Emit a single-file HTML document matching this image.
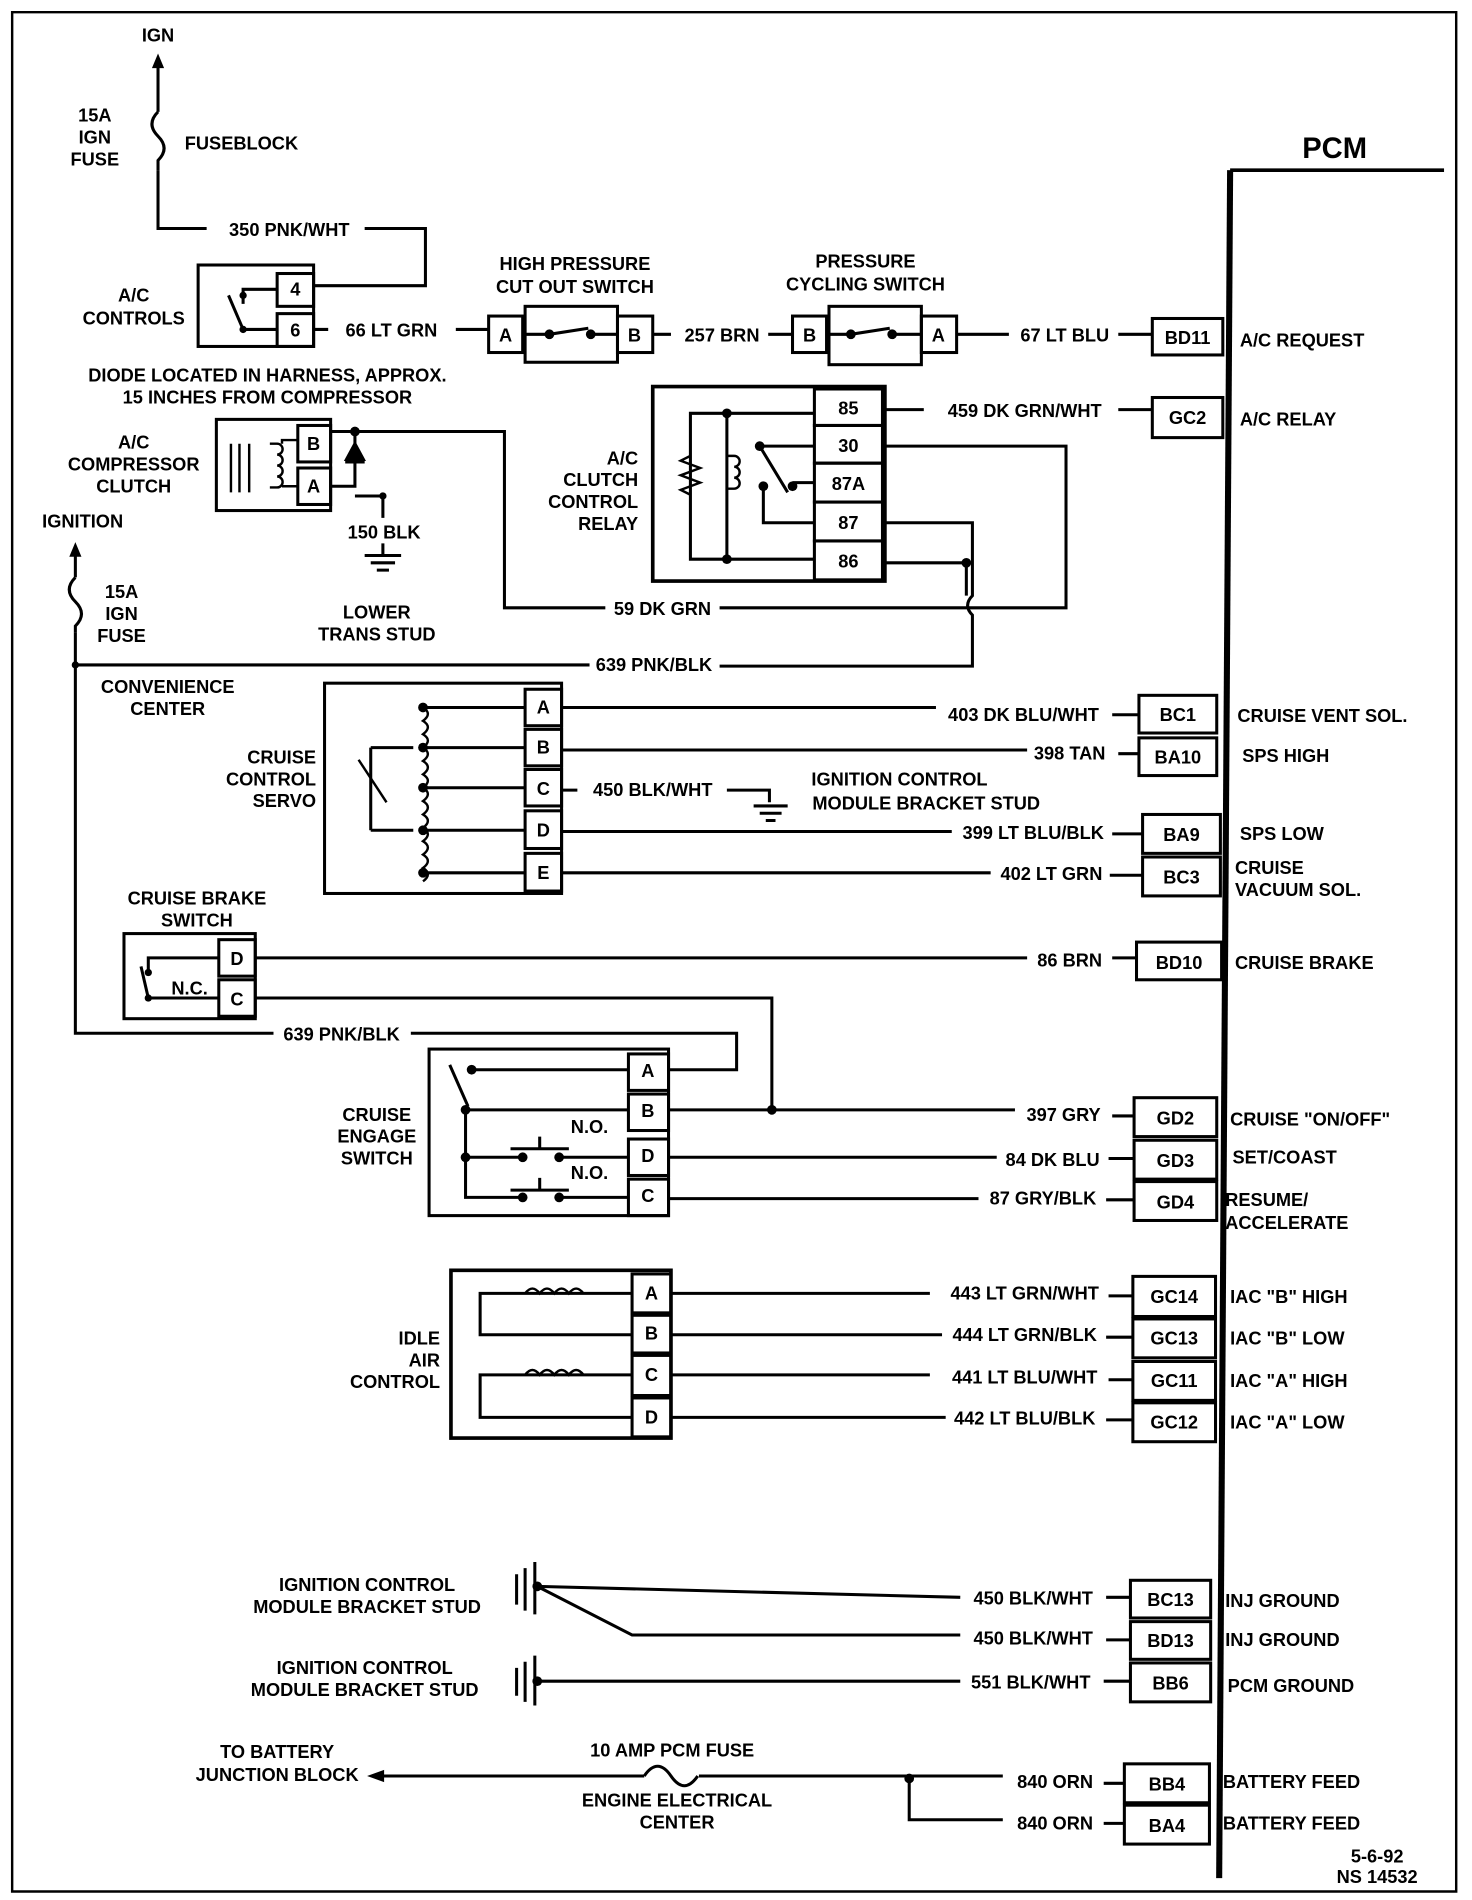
<!DOCTYPE html>
<html><head><meta charset="utf-8"><style>
html,body{margin:0;padding:0;background:#fff;}
svg{display:block;}
text{font-family:"Liberation Sans",sans-serif;font-weight:bold;font-size:15px;fill:#000;}
.r{text-anchor:end}.m{text-anchor:middle}
</style></head><body>
<svg width="1472" height="1900" viewBox="0 0 1211 1563" preserveAspectRatio="none" xmlns="http://www.w3.org/2000/svg">
<g fill="none" stroke="#000" stroke-width="2.5">
<path d="M10 10 H1198 V1556 H10 Z" stroke-width="2"/>
<path d="M1012 140 H1188" stroke-width="3"/>
<path d="M1012 140 L1003 1545" stroke-width="5"/>
<path d="M130 50 V92 M130 140 V188 H170 M300 188 H350 V235 H258"/>
<path d="M130 92 q-10 10 0 20 q10 10 0 20 v8"/>
<rect x="163" y="218" width="95" height="67"/>
<rect x="228" y="225" width="30" height="27"/><rect x="228" y="258" width="30" height="27"/>
<path d="M228 238 H200 V250 M228 271 H200 M200 271 L188 243"/>
<path d="M258 271 H270 M375 271 H402"/>
<rect x="402" y="260" width="28" height="30"/><rect x="432" y="252" width="76" height="46"/><rect x="508" y="260" width="29" height="30"/>
<path d="M430 275 H452 L484 270 M486 275 H508 M537 275 H552 M632 275 H652"/>
<rect x="652" y="260" width="28" height="30"/><rect x="682" y="252" width="76" height="48"/><rect x="758" y="260" width="29" height="30"/>
<path d="M680 275 H700 L732 270 M734 275 H758 M787 275 H830 M920 275 H948"/>
<rect x="948" y="262" width="58" height="30"/>
<rect x="537" y="318" width="191" height="160" stroke-width="3"/>
<rect x="670" y="320" width="56" height="30"/><rect x="670" y="350" width="56" height="31"/><rect x="670" y="381" width="56" height="32"/><rect x="670" y="413" width="56" height="32"/><rect x="670" y="445" width="56" height="32"/>
<path d="M568 404 V340 H670 M598 340 V460 M568 404 V460 H670"/>
<path d="M568 375 l-8 4 l16 6 l-16 6 l16 6 l-16 6 l8 4" stroke-width="2"/>
<path d="M598 375 h6 a4 4 0 0 1 0 9 a4 4 0 0 1 0 9 a4 4 0 0 1 0 9 h-6" stroke-width="2"/>
<path d="M625 367 H670 M625 367 L648 405 M652 397 H670 M628 400 V430 H670"/>
<path d="M728 337 H760 M920 337 H948"/>
<rect x="948" y="327" width="58" height="33"/>
<path d="M728 367 H877 V500 H592 M498 500 H415 V355 H272"/>
<path d="M728 430 H800 V490 q-8 8 0 16 V548 H592 M485 547 H62"/>
<path d="M728 463 H795 V490"/>
<rect x="178" y="345" width="94" height="75"/>
<rect x="245" y="350" width="27" height="30"/><rect x="245" y="385" width="27" height="30"/>
<path d="M190 365 V405 M197 365 V405 M205 365 V405 M245 362 H232 V365 M232 400 H245" stroke-width="2"/>
<path d="M222 365 h6 a4 4 0 0 1 0 9 a4 4 0 0 1 0 9 a4 4 0 0 1 0 9 a4 4 0 0 1 0 9 h-6" stroke-width="2"/>
<path d="M272 400 H292 V355 M292 408 H315 V426 M315 447 V457 M300 457 H330 M305 463 H325 M310 469 H320"/>
<path d="M284 380 H300" /><path d="M292 365 L285 378 H299 Z" fill="#000"/>
<path d="M62 455 V475 M62 520 V850 H225 M338 850 H606 V880 H550"/>
<path d="M62 475 q-10 10 0 20 q10 10 0 20 v5"/>
<rect x="267" y="562" width="195" height="173"/>
<rect x="432" y="567" width="30" height="30"/><rect x="432" y="600" width="30" height="30"/><rect x="432" y="633" width="30" height="30"/><rect x="432" y="667" width="30" height="31"/><rect x="432" y="702" width="30" height="31"/>
<path d="M432 582 H348 M432 615 H348 M432 648 H348 M432 683 H348 M432 718 H348 M305 615 V683 M305 615 H340 M305 683 H340"/>
<path d="M348 582 q8 5 0 11 q8 5 0 11 q8 5 0 11 q8 5 0 11 q8 5 0 11 q8 5 0 11 q8 5 0 11 q8 5 0 11 q8 5 0 11 q8 5 0 11 q8 5 0 11 q8 5 0 11 q8 5 0 11" stroke-width="2"/>
<path d="M295 625 L318 660" stroke-width="2"/>
<path d="M462 582 H770 M462 617 H845 M462 650 H475 M598 650 H633 V660 M620 663 H648 M625 669 H643 M630 675 H638 M462 684 H783 M462 718 H815"/>
<path d="M915 588 H937 M920 620 H937 M915 686 H940 M913 720 H940"/>
<rect x="937" y="572" width="64" height="31"/><rect x="937" y="607" width="64" height="31"/><rect x="940" y="670" width="64" height="32"/><rect x="940" y="705" width="64" height="32"/>
<rect x="102" y="768" width="108" height="70"/>
<rect x="180" y="773" width="30" height="30"/><rect x="180" y="806" width="30" height="30"/>
<path d="M180 788 H122 V800 M180 821 H122 M122 821 L116 795"/>
<path d="M210 788 H845 M915 788 H935 M210 821 H635 V913"/>
<rect x="935" y="775" width="70" height="31"/>
<rect x="353" y="863" width="197" height="137"/>
<rect x="517" y="867" width="33" height="30"/><rect x="517" y="900" width="33" height="30"/><rect x="517" y="937" width="33" height="30"/><rect x="517" y="970" width="33" height="30"/>
<path d="M517 880 H388 M370 876 L385 910 M517 913 H383 V985 H430 M517 985 H460 M517 952 H460 M430 952 H383 M420 945 L468 945 M444 945 V935 M420 979 L468 979 M444 979 V969"/>
<path d="M550 913 H835 M550 952 H820 M550 986 H805 M915 918 H933 M912 953 H933 M910 987 H933"/>
<rect x="933" y="903" width="68" height="32"/><rect x="933" y="938" width="68" height="32"/><rect x="933" y="972" width="68" height="32"/>
<rect x="371" y="1045" width="181" height="138" stroke-width="3"/>
<rect x="520" y="1048" width="32" height="32"/><rect x="520" y="1082" width="32" height="31"/><rect x="520" y="1115" width="32" height="33"/><rect x="520" y="1150" width="32" height="32"/>
<path d="M520 1064 H395 V1098 H520 M520 1131 H395 V1166 H520 M430 1064 l2 0 M430 1131 l2 0"/>
<path d="M432 1064 q6 -8 12 0 q6 -8 12 0 q6 -8 12 0 q6 -8 12 0" stroke-width="2"/>
<path d="M432 1131 q6 -8 12 0 q6 -8 12 0 q6 -8 12 0 q6 -8 12 0" stroke-width="2"/>
<path d="M552 1064 H765 M552 1098 H775 M552 1131 H765 M552 1166 H778 M912 1066 H932 M910 1100 H932 M912 1135 H932 M910 1168 H932"/>
<rect x="932" y="1050" width="68" height="33"/><rect x="932" y="1085" width="68" height="32"/><rect x="932" y="1120" width="68" height="32"/><rect x="932" y="1154" width="68" height="32"/>
<path d="M425 1295 V1320 M432 1290 V1325 M440 1285 V1328"/>
<path d="M442 1305 L790 1314 M442 1305 L520 1345 H790 M910 1314 H930 M910 1349 H930"/>
<rect x="930" y="1300" width="66" height="31"/><rect x="930" y="1334" width="66" height="31"/>
<path d="M425 1372 V1395 M432 1367 V1400 M440 1362 V1403"/>
<path d="M442 1383 H790 M908 1383 H930"/>
<rect x="930" y="1368" width="66" height="32"/>
<path d="M310 1461 H530 M575 1461 H825 M748 1461 V1497 H825 M908 1467 H925 M908 1500 H925"/>
<path d="M530 1461 q11 -16 22 0 q11 16 22 0"/>
<rect x="925" y="1451" width="70" height="32"/><rect x="925" y="1485" width="70" height="32"/>
</g>
<g fill="#000">
<path d="M130 44 l-5 12 h10 Z M62 446 l-5 12 h10 Z M302 1461 l14 -5 v10 Z"/>
<circle cx="452" cy="275" r="4"/><circle cx="486" cy="275" r="4"/><circle cx="700" cy="275" r="4"/><circle cx="734" cy="275" r="4"/>
<circle cx="200" cy="243" r="3"/><circle cx="200" cy="271" r="3"/>
<circle cx="598" cy="340" r="4"/><circle cx="598" cy="460" r="4"/><circle cx="625" cy="367" r="4"/><circle cx="652" cy="400" r="4"/><circle cx="628" cy="400" r="4"/><circle cx="795" cy="463" r="4"/>
<circle cx="292" cy="355" r="4"/><circle cx="315" cy="408" r="3"/><circle cx="62" cy="547" r="3"/>
<circle cx="348" cy="582" r="4"/><circle cx="348" cy="615" r="4"/><circle cx="348" cy="648" r="4"/><circle cx="348" cy="683" r="4"/><circle cx="348" cy="718" r="4"/>
<circle cx="122" cy="800" r="3"/><circle cx="122" cy="821" r="3"/>
<circle cx="388" cy="880" r="4"/><circle cx="383" cy="913" r="4"/><circle cx="383" cy="952" r="4"/><circle cx="430" cy="952" r="4"/><circle cx="460" cy="952" r="4"/><circle cx="430" cy="985" r="4"/><circle cx="460" cy="985" r="4"/><circle cx="635" cy="913" r="4"/>
<circle cx="442" cy="1305" r="4"/><circle cx="442" cy="1383" r="4"/><circle cx="748" cy="1463" r="4"/>
</g>
<text x="1098" y="130" class="m" style="font-size:24px">PCM</text>
<text x="130" y="34" class="m">IGN</text>
<text x="78" y="100" class="m">15A</text><text x="78" y="118" class="m">IGN</text><text x="78" y="136" class="m">FUSE</text>
<text x="152" y="123">FUSEBLOCK</text>
<text x="238" y="194" class="m">350 PNK/WHT</text>
<text x="110" y="248" class="m">A/C</text><text x="110" y="267" class="m">CONTROLS</text>
<text x="243" y="243" class="m">4</text><text x="243" y="277" class="m">6</text>
<text x="322" y="277" class="m">66 LT GRN</text>
<text x="473" y="222" class="m">HIGH PRESSURE</text><text x="473" y="241" class="m">CUT OUT SWITCH</text>
<text x="416" y="281" class="m">A</text><text x="522" y="281" class="m">B</text>
<text x="594" y="281" class="m">257 BRN</text>
<text x="712" y="220" class="m">PRESSURE</text><text x="712" y="239" class="m">CYCLING SWITCH</text>
<text x="666" y="281" class="m">B</text><text x="772" y="281" class="m">A</text>
<text x="876" y="281" class="m">67 LT BLU</text>
<text x="977" y="283" class="m">BD11</text><text x="1020" y="285">A/C REQUEST</text>
<text x="220" y="314" class="m">DIODE LOCATED IN HARNESS, APPROX.</text><text x="220" y="332" class="m">15 INCHES FROM COMPRESSOR</text>
<text x="698" y="341" class="m">85</text><text x="698" y="372" class="m">30</text><text x="698" y="403" class="m">87A</text><text x="698" y="435" class="m">87</text><text x="698" y="467" class="m">86</text>
<text x="843" y="343" class="m">459 DK GRN/WHT</text>
<text x="977" y="349" class="m">GC2</text><text x="1020" y="350">A/C RELAY</text>
<text x="525" y="382" class="r">A/C</text><text x="525" y="400" class="r">CLUTCH</text><text x="525" y="418" class="r">CONTROL</text><text x="525" y="436" class="r">RELAY</text>
<text x="110" y="369" class="m">A/C</text><text x="110" y="387" class="m">COMPRESSOR</text><text x="110" y="405" class="m">CLUTCH</text>
<text x="258" y="370" class="m">B</text><text x="258" y="405" class="m">A</text>
<text x="316" y="443" class="m">150 BLK</text>
<text x="310" y="509" class="m">LOWER</text><text x="310" y="527" class="m">TRANS STUD</text>
<text x="68" y="434" class="m">IGNITION</text>
<text x="100" y="492" class="m">15A</text><text x="100" y="510" class="m">IGN</text><text x="100" y="528" class="m">FUSE</text>
<text x="545" y="506" class="m">59 DK GRN</text>
<text x="538" y="552" class="m">639 PNK/BLK</text>
<text x="138" y="570" class="m">CONVENIENCE</text><text x="138" y="588" class="m">CENTER</text>
<text x="260" y="628" class="r">CRUISE</text><text x="260" y="646" class="r">CONTROL</text><text x="260" y="664" class="r">SERVO</text>
<text x="447" y="587" class="m">A</text><text x="447" y="620" class="m">B</text><text x="447" y="654" class="m">C</text><text x="447" y="688" class="m">D</text><text x="447" y="723" class="m">E</text>
<text x="842" y="593" class="m">403 DK BLU/WHT</text><text x="880" y="625" class="m">398 TAN</text>
<text x="537" y="655" class="m">450 BLK/WHT</text>
<text x="740" y="646" class="m">IGNITION CONTROL</text><text x="762" y="666" class="m">MODULE BRACKET STUD</text>
<text x="850" y="690" class="m">399 LT BLU/BLK</text><text x="865" y="724" class="m">402 LT GRN</text>
<text x="969" y="593" class="m">BC1</text><text x="969" y="628" class="m">BA10</text><text x="972" y="692" class="m">BA9</text><text x="972" y="727" class="m">BC3</text>
<text x="1018" y="594">CRUISE  VENT  SOL.</text><text x="1022" y="627">SPS  HIGH</text><text x="1020" y="691">SPS  LOW</text><text x="1016" y="719">CRUISE</text><text x="1016" y="737">VACUUM SOL.</text>
<text x="162" y="744" class="m">CRUISE BRAKE</text><text x="162" y="762" class="m">SWITCH</text>
<text x="195" y="794" class="m">D</text><text x="195" y="827" class="m">C</text><text x="156" y="818" class="m">N.C.</text>
<text x="880" y="795" class="m">86 BRN</text>
<text x="970" y="797" class="m">BD10</text><text x="1016" y="797">CRUISE BRAKE</text>
<text x="281" y="856" class="m">639 PNK/BLK</text>
<text x="310" y="922" class="m">CRUISE</text><text x="310" y="940" class="m">ENGAGE</text><text x="310" y="958" class="m">SWITCH</text>
<text x="533" y="886" class="m">A</text><text x="533" y="919" class="m">B</text><text x="533" y="956" class="m">D</text><text x="533" y="989" class="m">C</text>
<text x="485" y="932" class="m">N.O.</text><text x="485" y="970" class="m">N.O.</text>
<text x="875" y="922" class="m">397 GRY</text><text x="866" y="959" class="m">84 DK BLU</text><text x="858" y="991" class="m">87 GRY/BLK</text>
<text x="967" y="925" class="m">GD2</text><text x="967" y="960" class="m">GD3</text><text x="967" y="994" class="m">GD4</text>
<text x="1012" y="926">CRUISE "ON/OFF"</text><text x="1014" y="957">SET/COAST</text><text x="1008" y="992">RESUME/</text><text x="1008" y="1011">ACCELERATE</text>
<text x="362" y="1106" class="r">IDLE</text><text x="362" y="1124" class="r">AIR</text><text x="362" y="1142" class="r">CONTROL</text>
<text x="536" y="1069" class="m">A</text><text x="536" y="1102" class="m">B</text><text x="536" y="1136" class="m">C</text><text x="536" y="1171" class="m">D</text>
<text x="843" y="1069" class="m">443 LT GRN/WHT</text><text x="843" y="1103" class="m">444 LT GRN/BLK</text><text x="843" y="1138" class="m">441 LT BLU/WHT</text><text x="843" y="1172" class="m">442 LT BLU/BLK</text>
<text x="966" y="1072" class="m">GC14</text><text x="966" y="1106" class="m">GC13</text><text x="966" y="1141" class="m">GC11</text><text x="966" y="1175" class="m">GC12</text>
<text x="1012" y="1072">IAC "B" HIGH</text><text x="1012" y="1106">IAC "B" LOW</text><text x="1012" y="1141">IAC "A" HIGH</text><text x="1012" y="1175">IAC "A" LOW</text>
<text x="302" y="1309" class="m">IGNITION CONTROL</text><text x="302" y="1327" class="m">MODULE BRACKET STUD</text>
<text x="300" y="1377" class="m">IGNITION CONTROL</text><text x="300" y="1395" class="m">MODULE BRACKET STUD</text>
<text x="850" y="1320" class="m">450 BLK/WHT</text><text x="850" y="1353" class="m">450 BLK/WHT</text><text x="848" y="1389" class="m">551 BLK/WHT</text>
<text x="963" y="1321" class="m">BC13</text><text x="963" y="1355" class="m">BD13</text><text x="963" y="1390" class="m">BB6</text>
<text x="1008" y="1322">INJ GROUND</text><text x="1008" y="1354">INJ GROUND</text><text x="1010" y="1392">PCM GROUND</text>
<text x="228" y="1446" class="m">TO BATTERY</text><text x="228" y="1465" class="m">JUNCTION BLOCK</text>
<text x="553" y="1445" class="m">10 AMP PCM FUSE</text>
<text x="557" y="1486" class="m">ENGINE ELECTRICAL</text><text x="557" y="1504" class="m">CENTER</text>
<text x="868" y="1471" class="m">840 ORN</text><text x="868" y="1505" class="m">840 ORN</text>
<text x="960" y="1473" class="m">BB4</text><text x="960" y="1507" class="m">BA4</text>
<text x="1006" y="1471">BATTERY FEED</text><text x="1006" y="1505">BATTERY FEED</text>
<text x="1133" y="1532" class="m">5-6-92</text><text x="1133" y="1549" class="m">NS 14532</text>
</svg>
</body></html>
